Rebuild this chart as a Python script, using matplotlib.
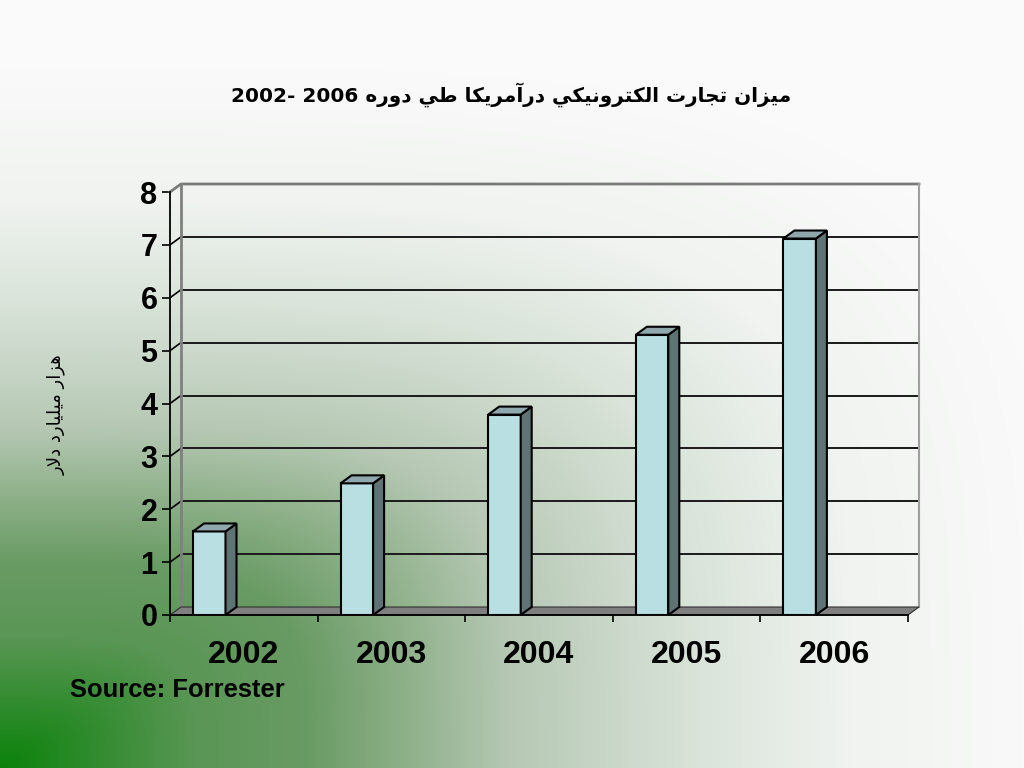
import numpy as np
import matplotlib.pyplot as plt
from matplotlib.patches import Polygon

# داده‌ها
years = ['2002', '2003', '2004', '2005', '2006']
values = [1.58, 2.49, 3.79, 5.30, 7.12]
y_ticks = [0, 1, 2, 3, 4, 5, 6, 7, 8]

title_ar = 'ميزان تجارت الكترونيكي درآمريكا طي دوره'
title_years = '2002- 2006'
ylabel_ar = 'هزار ميليارد دلار'
source = 'Source: Forrester'

# Arabic contextual forms (matplotlib does no shaping itself)
FORMS = {
    '\u0622': ('\uFE81', '\uFE82', None, None),
    '\u0627': ('\uFE8D', '\uFE8E', None, None),
    '\u062A': ('\uFE95', '\uFE96', '\uFE97', '\uFE98'),
    '\u062C': ('\uFE9D', '\uFE9E', '\uFE9F', '\uFEA0'),
    '\u062F': ('\uFEA9', '\uFEAA', None, None),
    '\u0631': ('\uFEAD', '\uFEAE', None, None),
    '\u0632': ('\uFEAF', '\uFEB0', None, None),
    '\u0637': ('\uFEC1', '\uFEC2', '\uFEC3', '\uFEC4'),
    '\u0643': ('\uFED9', '\uFEDA', '\uFEDB', '\uFEDC'),
    '\u0644': ('\uFEDD', '\uFEDE', '\uFEDF', '\uFEE0'),
    '\u0645': ('\uFEE1', '\uFEE2', '\uFEE3', '\uFEE4'),
    '\u0646': ('\uFEE5', '\uFEE6', '\uFEE7', '\uFEE8'),
    '\u0647': ('\uFEE9', '\uFEEA', '\uFEEB', '\uFEEC'),
    '\u0648': ('\uFEED', '\uFEEE', None, None),
    '\u064A': ('\uFEF1', '\uFEF2', '\uFEF3', '\uFEF4'),
}
LAM_ALEF = {'\u0627': ('\uFEFB', '\uFEFC'), '\u0622': ('\uFEF5', '\uFEF6')}


def rtl(text):
    toks = []
    i = 0
    while i < len(text):
        c = text[i]
        if c == '\u0644' and i + 1 < len(text) and text[i + 1] in LAM_ALEF:
            toks.append(('LA', text[i + 1]))
            i += 2
        else:
            toks.append(c)
            i += 1

    def joins_left(t):
        return isinstance(t, str) and t in FORMS and FORMS[t][2] is not None

    def joins_right(t):
        return isinstance(t, tuple) or t in FORMS

    out = []
    for k, t in enumerate(toks):
        prev = k > 0 and joins_left(toks[k - 1]) and joins_right(t)
        nxt = k + 1 < len(toks) and joins_left(t) and joins_right(toks[k + 1])
        if isinstance(t, tuple):
            out.append(LAM_ALEF[t[1]][1 if prev else 0])
        elif t in FORMS:
            f = FORMS[t]
            if prev and nxt:
                out.append(f[3])
            elif prev:
                out.append(f[1])
            elif nxt:
                out.append(f[2])
            else:
                out.append(f[0])
        else:
            out.append(t)
    return ''.join(reversed(out))


W, H = 1024, 768
fig = plt.figure(figsize=(10.24, 7.68), dpi=100)

# پس‌زمینه گرادیان سبز (از گوشه پایین چپ)
bg = fig.add_axes([0, 0, 1, 1], zorder=0)
xx, yy = np.meshgrid(np.arange(W), np.arange(H))
d = ((xx / 1.5) ** 4 + (H - 1 - yy) ** 4) ** 0.25
stops = [0, 130, 205, 267, 340, 467, 567, 700]
chans = [[10, 90, 105, 140, 182, 218, 240, 250],
         [130, 150, 155, 175, 200, 228, 243, 250],
         [10, 85, 100, 135, 180, 218, 240, 250]]
rgb = np.dstack([np.interp(d, stops, c) for c in chans]) / 255
bg.imshow(rgb, aspect='auto', extent=[0, 1, 0, 1])
bg.axis('off')

# نمودار
ax = fig.add_axes([170 / W, (H - 615) / H, 738 / W, 423 / H], zorder=1)
ax.set_xlim(-0.5, 4.5)
ax.set_ylim(0, 8)
ax.patch.set_visible(False)
for s in ['top', 'right']:
    ax.spines[s].set_visible(False)
for s in ['left', 'bottom']:
    ax.spines[s].set_linewidth(1.3)
    ax.spines[s].set_zorder(6)

dx, dy = 11 / 147.6, 8 / 52.875

# دیوار پشتی و خطوط شبکه
for v in y_ticks[1:-1]:
    ax.plot([-0.5 + dx, 4.5 + dx], [v + dy, v + dy], color='#1a1a1a', lw=1.4, zorder=2, clip_on=False)
    ax.plot([-0.5, -0.5 + dx], [v, v + dy], color='black', lw=1.2, zorder=2, clip_on=False)
ax.plot([-0.5, -0.5 + dx, 4.5 + dx], [8, 8 + dy, 8 + dy], color='#7a7a7a', lw=2, zorder=2, clip_on=False)
ax.plot([-0.5 + dx] * 2, [dy, 8 + dy], color='#808080', lw=2, zorder=2, clip_on=False)
ax.plot([4.5 + dx] * 2, [dy, 8 + dy], color='#a0a0a0', lw=1.5, zorder=2, clip_on=False)

floor = Polygon([(-0.5, 0), (4.5, 0), (4.5 + dx, dy), (-0.5 + dx, dy)],
                facecolor='#7f7f7f', edgecolor='#303030', lw=0.8, zorder=3, clip_on=False)
ax.add_patch(floor)

# ستون‌ها
lefts = np.arange(len(years)) - 0.5 + 23 / 147.6
bw = 32.5 / 147.6
ax.bar(lefts, values, width=bw, align='edge', color='#b9dfe3', edgecolor='black', lw=1.5, zorder=4)
for x0, v in zip(lefts, values):
    side = Polygon([(x0 + bw, 0), (x0 + bw + dx, dy), (x0 + bw + dx, v + dy), (x0 + bw, v)],
                   facecolor='#5f7274', edgecolor='black', lw=1.5, zorder=4, clip_on=False)
    top = Polygon([(x0, v), (x0 + bw, v), (x0 + bw + dx, v + dy), (x0 + dx, v + dy)],
                  facecolor='#8fa8ad', edgecolor='black', lw=1.5, zorder=4, clip_on=False)
    ax.add_patch(side)
    ax.add_patch(top)

ax.set_yticks(y_ticks)
ax.tick_params(axis='y', length=6, width=1.2, pad=3, labelsize=22)
ax.set_xticks(range(len(years)))
ax.set_xticklabels(years)
ax.set_xticks(np.arange(-0.5, 5, 1), minor=True)
ax.tick_params(axis='x', which='major', length=0, pad=18, labelsize=23)
ax.tick_params(axis='x', which='minor', length=5, width=1.2)
for lbl in ax.get_xticklabels() + ax.get_yticklabels():
    lbl.set_fontweight('bold')
    lbl.set_family('Liberation Sans')

fig.text(511 / W, (H - 95) / H, title_years + ' ' + rtl(title_ar), ha='center', va='center',
         fontsize=14.4, fontweight='bold', family='DejaVu Sans')
fig.text(56 / W, (H - 415) / H, rtl(ylabel_ar), rotation=90, ha='center', va='center',
         fontsize=13, family='DejaVu Sans')
fig.text(70 / W, (H - 697) / H, source, ha='left', va='baseline',
         fontsize=18.4, fontweight='bold', family='Liberation Sans')

fig.savefig('out.png', dpi=100)
